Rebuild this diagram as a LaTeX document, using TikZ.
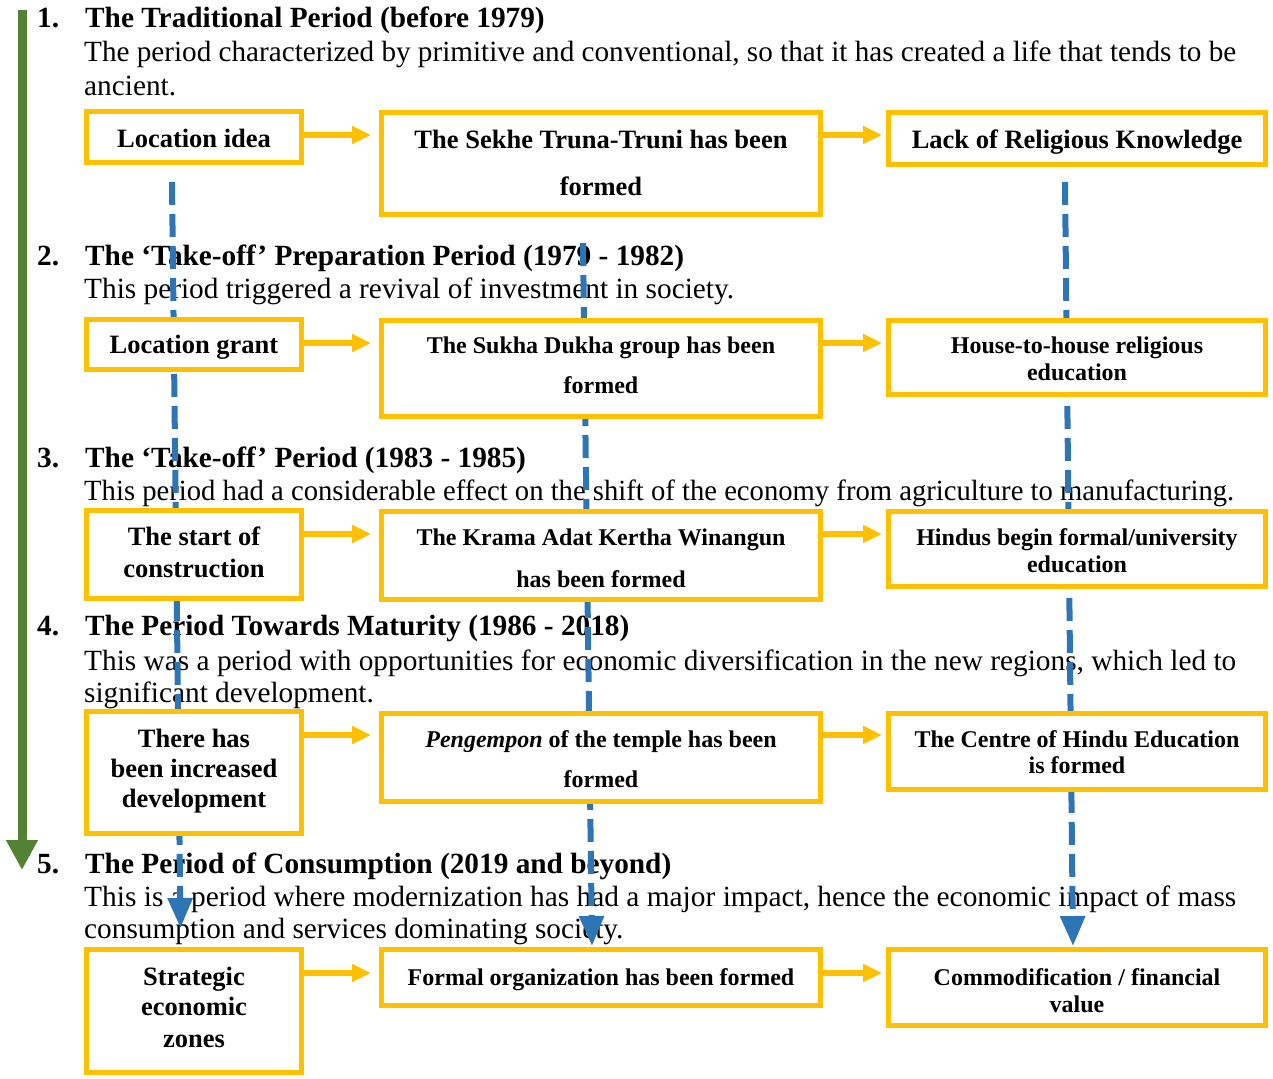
\documentclass[tikz,border=0pt]{standalone}
\usepackage{fontspec}
\setmainfont{Liberation Serif}
\usetikzlibrary{arrows.meta,calc}
\definecolor{ygold}{HTML}{FFC000}
\definecolor{bblue}{HTML}{2E75B6}
\definecolor{dgreen}{HTML}{548235}
\newcommand\jline[2]{\resizebox{#1pt}{\height}{#2}}
\begin{document}
\begin{tikzpicture}[x=1pt,y=-1pt,
  txt/.style={anchor=base west, inner sep=0pt, font=\fontsize{29.3}{34}\selectfont},
  hd/.style={anchor=base west, inner sep=0pt, font=\bfseries\fontsize{29.3}{34}\selectfont},
  bigt/.style={anchor=base, inner sep=0pt, font=\bfseries\fontsize{26.5}{30}\selectfont},
  smt/.style={anchor=base, inner sep=0pt, font=\bfseries\fontsize{24}{27}\selectfont},
  box/.style={draw=ygold, line width=5pt, fill=white, inner sep=0pt},
  yarrow/.style={draw=ygold, line width=5.5pt, -{Triangle[length=19pt,width=17pt]}},
  bdash/.style={draw=bblue, line width=6pt, dash pattern=on 23pt off 9pt, -{Triangle[length=30pt,width=24pt]}},
  garrow/.style={draw=dgreen, line width=9pt, -{Triangle[length=30pt,width=30pt]}}
]
\useasboundingbox (0,0) rectangle (1273,1078);

% green timeline arrow
\coordinate (g1) at (22,10);
\coordinate (g2) at (22,870);
\draw[garrow] (g1) -- (g2);

% headings and paragraphs
\node[hd] (n1) at (37,28) {1.};
\node[hd] (h1) at (85,28) {The Traditional Period (before 1979)};
\node[txt] (p1a) at (84,62) {\jline{1152}{The period characterized by primitive and conventional, so that it has created a life that tends to be}};
\node[txt] (p1b) at (84,96) {ancient.};

\node[hd] (n2) at (37,265) {2.};
\node[hd] (h2) at (85,265) {The ‘Take-off’ Preparation Period (1979 - 1982)};
\node[txt] (p2a) at (84,298) {This period triggered a revival of investment in society.};

\node[hd] (n3) at (37,467) {3.};
\node[hd] (h3) at (85,467) {The ‘Take-off’ Period (1983 - 1985)};
\node[txt] (p3a) at (84,500) {\jline{1150}{This period had a considerable effect on the shift of the economy from agriculture to manufacturing.}};

\node[hd] (n4) at (37,635) {4.};
\node[hd] (h4) at (85,635) {The Period Towards Maturity (1986 - 2018)};
\node[txt] (p4a) at (84,670) {\jline{1152}{This was a period with opportunities for economic diversification in the new regions, which led to}};
\node[txt] (p4b) at (84,702) {significant development.};

\node[hd] (n5) at (37,873) {5.};
\node[hd] (h5) at (85,873) {The Period of Consumption (2019 and beyond)};
\node[txt] (p5a) at (84,906) {\jline{1152}{This is a period where modernization has had a major impact, hence the economic impact of mass}};
\node[txt] (p5b) at (84,938) {consumption and services dominating society.};

% blue dashed arrows
\coordinate (l1) at (172,182);
\coordinate (l2) at (180.5,928);
\coordinate (m1) at (583,243);
\coordinate (m2) at (592,946);
\coordinate (r1) at (1065,182);
\coordinate (r2) at (1073,946);
\draw[bdash] (l1) -- (l2);
\draw[bdash] (m1) -- (m2);
\draw[bdash] (r1) -- (r2);

% boxes
\node[box, minimum width=215, minimum height=51] (a1) at (194,137) {};
\node[box, minimum width=439, minimum height=102] (b1) at (601,163.5) {};
\node[box, minimum width=377, minimum height=52] (c1) at (1077,138.5) {};
\node[box, minimum width=215, minimum height=50] (a2) at (194,344.5) {};
\node[box, minimum width=439, minimum height=96] (b2) at (601,368.5) {};
\node[box, minimum width=377, minimum height=74] (c2) at (1077,357.5) {};
\node[box, minimum width=215, minimum height=88] (a3) at (194,554.5) {};
\node[box, minimum width=439, minimum height=88] (b3) at (601,555.5) {};
\node[box, minimum width=377, minimum height=75] (c3) at (1077,549) {};
\node[box, minimum width=215, minimum height=122] (a4) at (194,772.5) {};
\node[box, minimum width=439, minimum height=88] (b4) at (601,757.5) {};
\node[box, minimum width=377, minimum height=76] (c4) at (1077,751.5) {};
\node[box, minimum width=215, minimum height=123] (a5) at (194,1011) {};
\node[box, minimum width=439, minimum height=56] (b5) at (601,977.5) {};
\node[box, minimum width=377, minimum height=76] (c5) at (1077,987.5) {};

% box texts
\node[bigt] (ta1) at (194,148) {Location idea};
\node[bigt] (tb1a) at (601,149) {The Sekhe Truna-Truni has been};
\node[bigt] (tb1b) at (601,195) {formed};
\node[bigt] (tc1) at (1077,149) {Lack of Religious Knowledge};

\node[bigt] (ta2) at (194,353) {Location grant};
\node[smt] (tb2a) at (601,353) {The Sukha Dukha group has been};
\node[smt] (tb2b) at (601,393) {formed};
\node[smt] (tc2a) at (1077,353) {House-to-house religious};
\node[smt] (tc2b) at (1077,380) {education};

\node[bigt] (ta3a) at (194,545) {The start of};
\node[bigt] (ta3b) at (194,577) {construction};
\node[smt] (tb3a) at (601,545) {The Krama Adat Kertha Winangun};
\node[smt] (tb3b) at (601,587) {has been formed};
\node[smt] (tc3a) at (1077,545) {Hindus begin formal/university};
\node[smt] (tc3b) at (1077,572) {education};

\node[bigt] (ta4a) at (194,747) {There has};
\node[bigt] (ta4b) at (194,777) {been increased};
\node[bigt] (ta4c) at (194,807) {development};
\node[smt] (tb4a) at (601,747) {\textit{Pengempon} of the temple has been};
\node[smt] (tb4b) at (601,787) {formed};
\node[smt] (tc4a) at (1077,747) {The Centre of Hindu Education};
\node[smt] (tc4b) at (1077,773) {is formed};

\node[bigt] (ta5a) at (194,985) {Strategic};
\node[bigt] (ta5b) at (194,1015) {economic};
\node[bigt] (ta5c) at (194,1047) {zones};
\node[smt] (tb5) at (601,985) {Formal organization has been formed};
\node[smt] (tc5a) at (1077,985) {Commodification / financial};
\node[smt] (tc5b) at (1077,1012) {value};

% yellow arrows
\foreach \r in {1,...,5}{
  \coordinate (y\r) at ($(a\r.north east)+(0,26)$);
  \draw[yarrow, shorten >=8pt] (y\r) -- (y\r -| b\r.west);
  \draw[yarrow, shorten >=4pt] (y\r -| b\r.east) -- (y\r -| c\r.west);
}
\end{tikzpicture}
\end{document}
